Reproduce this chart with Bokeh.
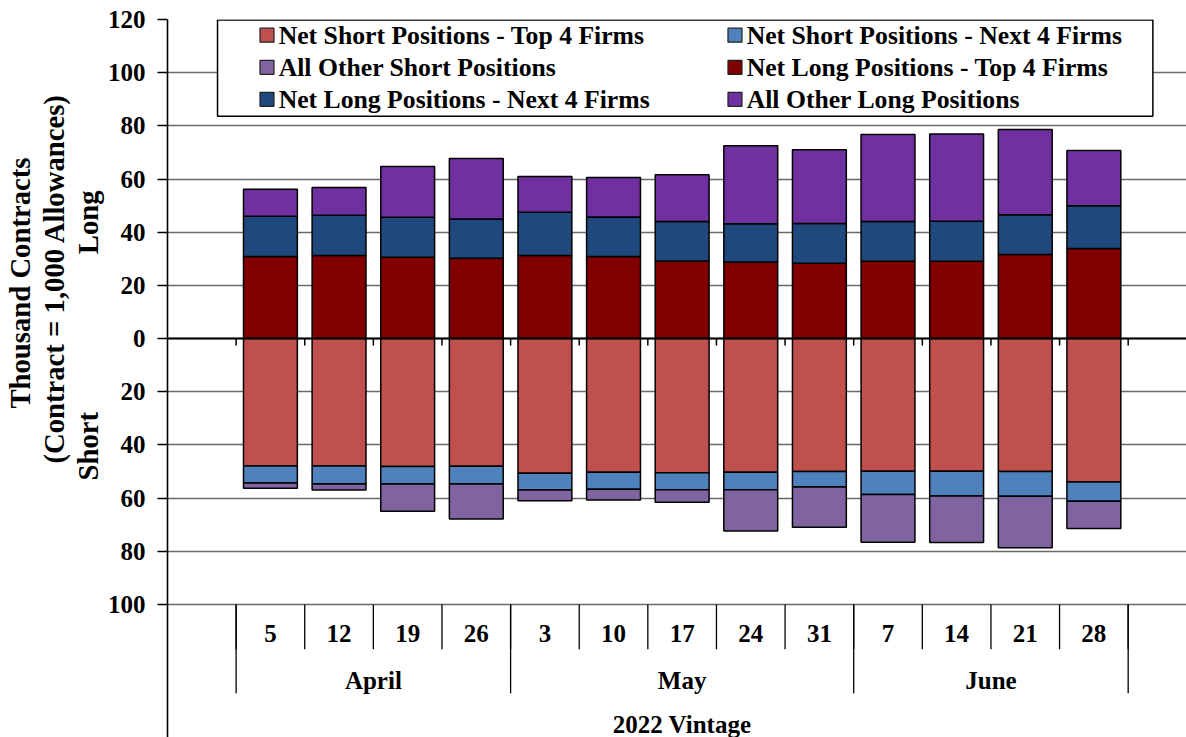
import numpy as np
from bokeh.plotting import figure
from bokeh.models import Range1d, FixedTicker, Span, Title
from bokeh.core.properties import value
from bokeh.embed import file_html
from bokeh.resources import INLINE

# ---------------- data ----------------
days = ["5", "12", "19", "26", "3", "10", "17", "24", "31", "7", "14", "21", "28"]
months = ["April", "May", "June"]
month_counts = [4, 5, 4]
vintage = "2022 Vintage"

long_top4 = [30.9, 31.3, 30.6, 30.2, 31.3, 30.9, 29.2, 28.8, 28.3, 29.1, 29.1, 31.6, 33.9]
long_next4 = [15.1, 15.1, 15.0, 14.8, 16.2, 14.8, 14.8, 14.4, 15.0, 14.9, 15.0, 15.0, 16.1]
long_other = [10.2, 10.4, 19.1, 22.7, 13.5, 14.9, 17.6, 29.3, 27.7, 32.8, 32.8, 32.0, 20.7]

short_top4 = [47.9, 47.9, 48.1, 48.0, 50.6, 50.3, 50.4, 50.3, 50.0, 49.9, 49.9, 50.0, 53.9]
short_next4 = [6.4, 6.8, 6.6, 6.7, 6.3, 6.3, 6.4, 6.5, 5.8, 8.7, 9.3, 9.3, 7.3]
short_other = [2.0, 2.2, 10.2, 13.1, 4.1, 4.1, 4.7, 15.5, 15.1, 18.0, 17.5, 19.3, 10.2]

y_ticks = [-100, -80, -60, -40, -20, 0, 20, 40, 60, 80, 100, 120]

series_names = ["Net Short Positions - Top 4 Firms", "Net Short Positions - Next 4 Firms",
                "All Other Short Positions", "Net Long Positions - Top 4 Firms",
                "Net Long Positions - Next 4 Firms", "All Other Long Positions"]
colors = {"st4": "#C0504D", "sn4": "#4F81BD", "so": "#8064A2",
          "lt4": "#800000", "ln4": "#1F497D", "lo": "#7030A0"}

FONT = "Liberation Serif"

# ---------------- figure ----------------
p = figure(width=1186, height=737, x_range=Range1d(0, 14.85), y_range=Range1d(-150, 120),
           output_backend="svg", toolbar_location=None, x_axis_location=None,
           min_border_left=167, min_border_right=0, min_border_top=19, min_border_bottom=0)
p.outline_line_color = None
p.background_fill_color = "white"
p.border_fill_color = "white"

ticker = FixedTicker(ticks=y_ticks)
p.yaxis.ticker = ticker
p.yaxis.major_label_overrides = {v: str(abs(v)) for v in y_ticks}
p.yaxis.major_label_text_font = FONT
p.yaxis.major_label_text_font_size = "25px"
p.yaxis.major_label_text_font_style = "bold"
p.yaxis.major_label_text_color = "black"
p.yaxis.major_tick_out = 10
p.yaxis.major_tick_in = 0
p.yaxis.major_tick_line_color = "black"
p.yaxis.major_tick_line_width = 1.3
p.yaxis.minor_tick_line_color = None
p.yaxis.major_label_standoff = 12
p.yaxis.axis_line_color = "black"
p.yaxis.axis_line_width = 1.6

p.ygrid.ticker = ticker
p.ygrid.grid_line_color = "#6a6a6a"
p.ygrid.grid_line_width = 1.3
p.xgrid.visible = False

n = len(days)
xc = np.arange(n) + 1.5
bw = 0.785

lt = np.array(long_top4)
ln = np.array(long_next4)
lo = np.array(long_other)
stp = np.array(short_top4)
sn = np.array(short_next4)
so = np.array(short_other)

def bars(bottom, top, color):
    p.vbar(x=xc, bottom=bottom, top=top, width=bw, fill_color=color,
           line_color="black", line_width=1.5)

bars(0, lt, colors["lt4"])
bars(lt, lt + ln, colors["ln4"])
bars(lt + ln, lt + ln + lo, colors["lo"])
bars(0, -stp, colors["st4"])
bars(-stp, -(stp + sn), colors["sn4"])
bars(-(stp + sn), -(stp + sn + so), colors["so"])

# zero (category) axis line with ticks
p.add_layout(Span(location=0, dimension="width", line_color="black", line_width=2))
bounds = np.arange(1, n + 2)
p.segment(x0=bounds, x1=bounds, y0=0, y1=-2.6, line_color="black", line_width=1.5)

# multi-level category labels under the plot
p.segment(x0=bounds, x1=bounds, y0=-100, y1=-116.8, line_color="black", line_width=1.3)
mb = np.concatenate([[1], 1 + np.cumsum(month_counts)])
p.segment(x0=mb, x1=mb, y0=-100, y1=-133.4, line_color="black", line_width=1.3)

TXT = dict(text_font=value(FONT), text_font_size="25px", text_font_style="bold",
           text_align="center", text_baseline="middle", text_color="black")
p.text(x=xc, y=[-110.9] * n, text=days, **TXT)
mc = (mb[:-1] + mb[1:]) / 2
p.text(x=mc, y=[-128.4] * len(months), text=months, **TXT)
p.text(x=[(mb[0] + mb[-1]) / 2], y=[-145.0], text=[vintage], **TXT)

# ---------------- legend (drawn) ----------------
p.quad(left=[0.729], right=[14.36], top=[119.8], bottom=[83.6], fill_color="white",
       line_color="black", line_width=1.5)
leg_keys = ["st4", "sn4", "so", "lt4", "ln4", "lo"]
leg_x_sw = [1.45, 8.27]
leg_x_tx = [1.62, 8.44]
leg_y = [114.1, 102.0, 90.0]
for i, (k, name) in enumerate(zip(leg_keys, series_names)):
    r, c = divmod(i, 2)
    p.rect(x=[leg_x_sw[c]], y=[leg_y[r]], width=14, height=14, width_units="screen",
           height_units="screen", fill_color=colors[k], line_color="#222222", line_width=1.2)
    p.text(x=[leg_x_tx[c]], y=[leg_y[r]], text=[name], text_font=value(FONT),
           text_font_size="25.7px", text_font_style="bold", text_align="left",
           text_baseline="middle", text_color="black")

# ---------------- y-axis titles (side-panel titles) ----------------
TT = dict(text_font=FONT, text_font_size="28.7px", text_font_style="bold",
          text_color="black", vertical_align="middle", standoff=0)
p.add_layout(Title(text="Short" + "\u00a0" * 22 + "Long", align="left", offset=257, **TT), "left")
p.add_layout(Title(text="(Contract = 1,000 Allowances)", align="right", offset=74, **TT), "left")
p.add_layout(Title(text="Thousand Contracts", align="right", offset=138, **TT), "left")

open("out.html", "w").write(file_html(p, INLINE))
